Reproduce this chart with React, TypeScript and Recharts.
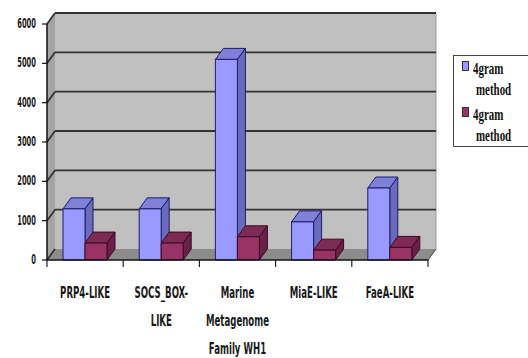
import { BarChart, Bar, XAxis, YAxis, Legend, ReferenceArea } from 'recharts'

// 3D sloupce (styl Excel 2003) — hloubka se kreslí vlastním tvarem
const CATEGORIES = [
  ['PRP4-LIKE'],
  ['SOCS_BOX-', 'LIKE'],
  ['Marine', 'Metagenome', 'Family WH1'],
  ['MiaE-LIKE'],
  ['FaeA-LIKE'],
]
const SERIES_A = [1300, 1300, 5100, 970, 1830]
const SERIES_B = [430, 430, 590, 250, 320]
const Y_TICKS = [0, 1000, 2000, 3000, 4000, 5000, 6000]
const SERIES_NAMES = ['4gram method', '4gram method']

const data = CATEGORIES.map((c, i) => ({ name: c.join('\n'), a: SERIES_A[i], b: SERIES_B[i] }))

const DX = 8
const DY = 11
const WALL_DY = 11

const BLUE = { front: '#9999ff', top: '#8080d8', side: '#6b6bbd', stroke: '#1c1c6a' }
const RED = { front: '#993366', top: '#7d2a55', side: '#6a2047', stroke: '#3c0a22' }

function Box3D(props: any, c: typeof BLUE) {
  const { x, y, width: w, height: h } = props
  if (h == null || w == null) return <g />
  return (
    <g stroke={c.stroke} strokeWidth={1} strokeLinejoin="round">
      <polygon points={`${x},${y} ${x + DX},${y - DY} ${x + w + DX},${y - DY} ${x + w},${y}`} fill={c.top} />
      <polygon points={`${x + w},${y} ${x + w + DX},${y - DY} ${x + w + DX},${y + h - DY} ${x + w},${y + h}`} fill={c.side} />
      <rect x={x} y={y} width={w} height={h} fill={c.front} />
    </g>
  )
}

// zadní stěna, podlaha, levá stěna a mřížka
function Walls(props: any) {
  const { x, y, width, height } = props
  const b = y + height
  const n = Y_TICKS.length - 1
  const grid = Y_TICKS.map((_, i) => y + (height * (n - i)) / n)
  const cats = CATEGORIES.length
  return (
    <g>
      <rect x={x + DX} y={y - WALL_DY} width={width} height={height} fill="#c0c0c0" />
      <polygon points={`${x},${y} ${x + DX},${y - WALL_DY} ${x + DX},${b - WALL_DY} ${x},${b}`} fill="#a4a4a4" />
      <polygon points={`${x},${b} ${x + DX},${b - WALL_DY} ${x + width + DX},${b - WALL_DY} ${x + width},${b}`} fill="#8c8c8c" />
      <line x1={x + width + DX} y1={y - WALL_DY} x2={x + width + DX} y2={b - WALL_DY} stroke="#9a9a9a" strokeWidth={1} />
      <line x1={x + width} y1={b} x2={x + width + DX} y2={b - WALL_DY} stroke="#444" strokeWidth={1} />
      {grid.map((gy, i) => (
        <g key={i} stroke="#333" strokeWidth={1.8}>
          <line x1={x} y1={gy} x2={x + DX} y2={gy - WALL_DY} />
          {i > 0 && <line x1={x + DX} y1={gy - WALL_DY} x2={x + width + DX} y2={gy - WALL_DY} />}
        </g>
      ))}
      {Array.from({ length: cats + 1 }, (_, i) => (
        <line key={i} x1={x + (width * i) / cats} y1={b} x2={x + (width * i) / cats} y2={b + 7} stroke="#222" strokeWidth={1.2} />
      ))}
    </g>
  )
}

function XTick({ x, y, payload }: any) {
  const lines = String(payload.value).split('\n')
  return (
    <g transform={`translate(${x},${y + 30})`}>
      {lines.map((l, i) => (
        <text
          key={i}
          transform={`translate(0,${i * 28}) scale(0.87,1.45)`}
          textAnchor="middle"
          fontFamily="'Liberation Sans Narrow', 'DejaVu Sans Condensed', sans-serif"
          fontWeight="bold"
          fontSize={11}
          fill="#1a1a1a"
        >
          {l}
        </text>
      ))}
    </g>
  )
}

function YTick({ x, y, payload }: any) {
  return (
    <text
      transform={`translate(${x - 4},${y + 4}) scale(0.75,1.35)`}
      textAnchor="end"
      fontFamily="'Liberation Sans Narrow', 'DejaVu Sans Condensed', sans-serif"
      fontWeight="bold"
      fontSize={10}
      fill="#1a1a1a"
    >
      {payload.value}
    </text>
  )
}

function LegendBox() {
  const cols = [BLUE.front, RED.front]
  return (
    <div
      style={{
        border: '1.5px solid #444',
        width: 90,
        height: 92,
        boxSizing: 'border-box',
        padding: '1px 0 0 4px',
        background: '#fff',
        fontFamily: "'Liberation Serif', serif",
        fontSize: 14,
        fontWeight: 'bold',
        color: '#111',
        textAlign: 'left',
      }}
    >
      {SERIES_NAMES.map((n, i) => {
        const [w1, w2] = n.split(' ')
        return (
          <div key={i} style={{ position: 'relative', height: 46 }}>
            <span style={{ position: 'absolute', left: 4, top: 4, width: 5, height: 8, background: cols[i], border: '1px solid #333' }} />
            <span style={{ position: 'absolute', left: 15, top: 0, lineHeight: '20px', transform: 'scale(0.78,1.2)', transformOrigin: 'left top' }}>{w1}</span>
            <span style={{ position: 'absolute', left: 18, top: 21, lineHeight: '20px', transform: 'scale(0.78,1.2)', transformOrigin: 'left top' }}>{w2}</span>
          </div>
        )
      })}
    </div>
  )
}

export default function App() {
  return (
    <div style={{ position: 'absolute', left: 0, top: 0, width: 528, height: 358, overflow: 'hidden', background: '#fff' }}>
      <BarChart width={528} height={358} data={data} margin={{ top: 24, right: 100, bottom: 0, left: 7 }} barSize={22} barGap={0}>
        <ReferenceArea y1={0} y2={6000} zIndex={-200} shape={Walls} ifOverflow="visible" />
        <XAxis dataKey="name" tick={<XTick />} tickLine={false} axisLine={{ stroke: '#111', strokeWidth: 1.5 }} height={98} interval={0} />
        <YAxis
          domain={[0, 6000]}
          ticks={Y_TICKS}
          tick={<YTick />}
          tickLine={{ stroke: '#111', strokeWidth: 1.2 }}
          tickSize={5}
          axisLine={{ stroke: '#111', strokeWidth: 1.5 }}
          width={40}
          interval={0}
        />
        <Legend
          layout="horizontal"
          align="center"
          verticalAlign="middle"
          content={<LegendBox />}
          wrapperStyle={{ position: 'absolute', left: 453, top: 55, width: 90 }}
        />
        <Bar dataKey="a" name={SERIES_NAMES[0]} isAnimationActive={false} shape={(p: any) => Box3D(p, BLUE)} />
        <Bar dataKey="b" name={SERIES_NAMES[1]} isAnimationActive={false} shape={(p: any) => Box3D(p, RED)} />
      </BarChart>
    </div>
  )
}
